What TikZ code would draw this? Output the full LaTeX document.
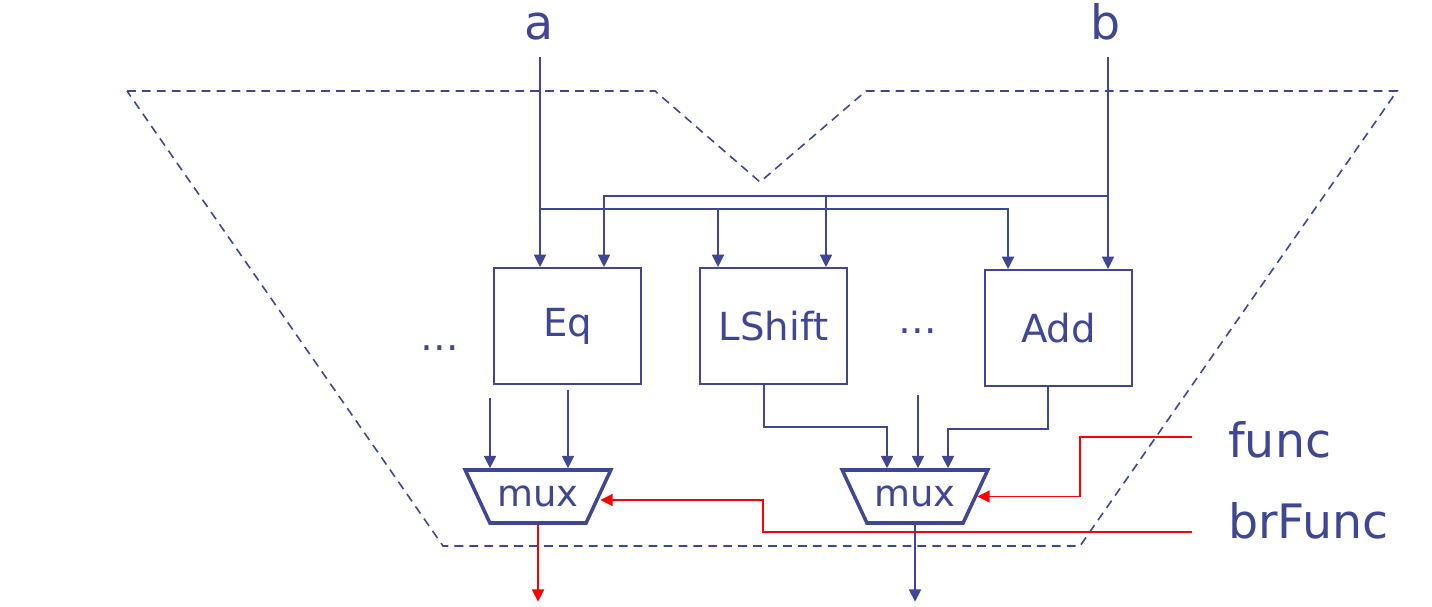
\documentclass[tikz,border=0pt]{standalone}
\usepackage{fontspec}
\setmainfont{DejaVu Sans}
\usetikzlibrary{arrows.meta,shapes.geometric}

\begin{document}
\begin{tikzpicture}[x = 0.02cm, y = -0.02cm]
  \useasboundingbox (0,0) rectangle (1432,607);

  \definecolor{ink}{RGB}{63,71,148}
  \colorlet{sig}{red}

  \tikzset{
    wire/.style = {draw = ink, line width = 1.1pt, -{Triangle[length = 7pt, width = 6.8pt]}},
    ctrl/.style = {wire, draw = sig},
    unit/.style = {draw = ink, line width = 1.1pt, text = ink, minimum width = 2.94cm, minimum height = 2.32cm, font = \fontsize{22}{26}\selectfont},
    mux/.style = {trapezium, shape border rotate = 180, trapezium angle = 65, trapezium stretches = true,
      text height = 0.62cm, text depth = 0.24cm, inner ysep = 0.1cm, inner xsep = 0.15cm,
      minimum width = 2.82cm, minimum height = 1.06cm,
      draw = ink, line width = 2pt, text = ink, font = \fontsize{21}{25}\selectfont},
    port/.style = {text = ink, font = \fontsize{27}{32}\selectfont},
    more/.style = {text = ink, font = \fontsize{22}{26}\selectfont}
  }

  % outline of the unit
  \draw[ink, line width = 0.9pt, dash pattern = on 5pt off 3.5pt]
    (127,91) -- (655,91) -- (760,182) -- (866,91) -- (1397,91) -- (1080,546) -- (443,546) -- cycle;

  \node[port, anchor = base] (a) at (539,40) {a};
  \node[port, anchor = base] (b) at (1106,40) {b};
  \node[port, anchor = base west] (func) at (1222,457) {func};
  \node[port, anchor = base west] (brFunc) at (1222,538) {brFunc};

  \foreach \name/\x/\y in {Eq/567.5/326, LShift/773.5/326, Add/1058.5/328}
    \node[unit] (\name) at (\x,\y) {\name};

  \node[more] (dotsL) at (440,348) {\dots};
  \node[more] (dotsR) at (918,331) {\dots};

  \node[mux] (mux1) at (538,496.5) {mux};
  \node[mux] (mux2) at (915,496.5) {mux};

  \coordinate (aIn) at (540,57);
  \coordinate (bIn) at (1108,57);
  \coordinate (aTap) at (540,209);
  \coordinate (bTap) at (1108,196);

  % operands
  \draw[wire] (aIn) -- (aIn |- Eq.north);
  \draw[wire] (bIn) -- (bIn |- Add.north);
  \draw[wire] (aTap) -| ([xshift = -1.11cm]LShift.north);
  \draw[wire] (aTap) -| ([xshift = -1.01cm]Add.north);
  \draw[wire] (bTap) -| ([xshift = 1.05cm]LShift.north);
  \draw[wire] (bTap) -| ([xshift = 0.73cm]Eq.north);

  % results
  \coordinate (eqOutL) at (490,398);
  \coordinate (eqOutR) at (568,390);
  \coordinate (dotsOut) at (918,395);
  \draw[wire] (eqOutL) -- (eqOutL |- mux1.north);
  \draw[wire] (eqOutR) -- (eqOutR |- mux1.north);
  \draw[wire] ([xshift = -0.19cm]LShift.south) -- ++(0,42) -| ([xshift = -0.56cm]mux2.north);
  \draw[wire] (dotsOut) -- (dotsOut |- mux2.north);
  \draw[wire] ([xshift = -0.21cm]Add.south) -- ++(0,42) -| ([xshift = 0.66cm]mux2.north);

  % selects
  \coordinate (funcIn) at (1192,437);
  \coordinate (brIn) at (1192,532);
  \draw[ctrl] (funcIn) -- ++(-112,0) |- (mux2.east);
  \draw[ctrl] (brIn) -- ++(-429,0) |- ([yshift = -0.07cm]mux1.east);

  \draw[ctrl] (mux1.south) -- ++(0,77);
  \draw[wire] (mux2.south) -- ++(0,77);
\end{tikzpicture}
\end{document}
